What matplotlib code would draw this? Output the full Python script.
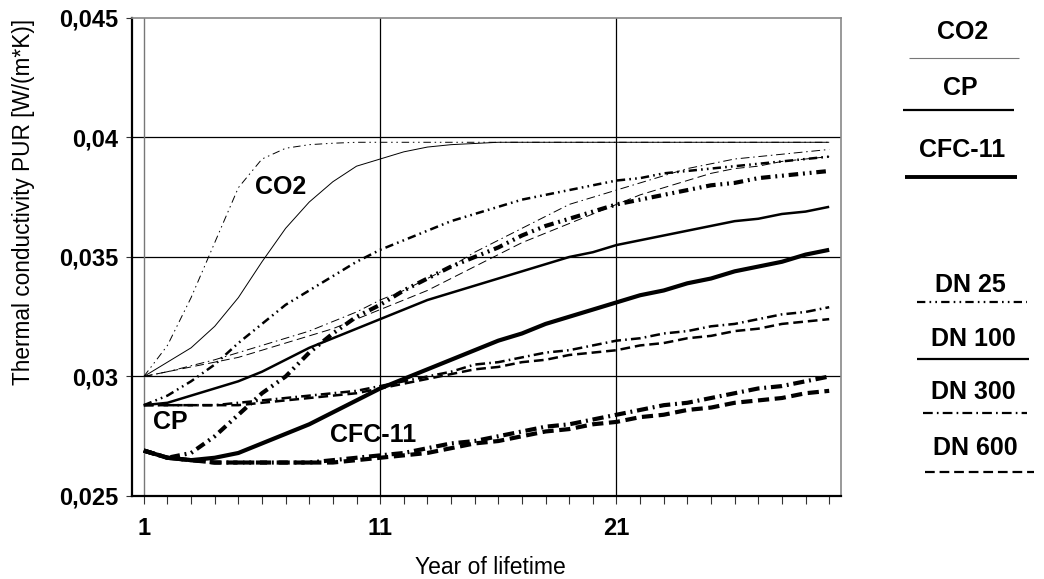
import matplotlib
matplotlib.use("Agg")
import matplotlib.pyplot as plt
from matplotlib.lines import Line2D

plt.rcParams['font.family'] = ['Liberation Sans', 'DejaVu Sans']
plt.rcParams['lines.scale_dashes'] = False

years = list(range(1, 31))

co2_dn25 = [0.0300, 0.0313, 0.0333, 0.0356, 0.0379, 0.0391, 0.03955, 0.0397, 0.03976, 0.0398,
            0.0398, 0.0398, 0.0398, 0.0398, 0.0398, 0.0398, 0.0398, 0.0398, 0.0398, 0.0398,
            0.0398, 0.0398, 0.0398, 0.0398, 0.0398, 0.0398, 0.0398, 0.0398, 0.0398, 0.0398]
co2_dn100 = [0.0300, 0.0306, 0.0312, 0.0321, 0.0333, 0.0348, 0.0362, 0.0373, 0.03815, 0.0388,
             0.0391, 0.0394, 0.0396, 0.0397, 0.03975, 0.0398, 0.0398, 0.0398, 0.0398, 0.0398,
             0.0398, 0.0398, 0.0398, 0.0398, 0.0398, 0.0398, 0.0398, 0.0398, 0.0398, 0.0398]
co2_dn300 = [0.0300, 0.0302, 0.03045, 0.0307, 0.0310, 0.0313, 0.0316, 0.0319, 0.0323, 0.0327,
             0.0332, 0.0336, 0.0341, 0.0346, 0.0352, 0.0357, 0.0362, 0.0367, 0.0372, 0.0375,
             0.0378, 0.0381, 0.0384, 0.0387, 0.0389, 0.0391, 0.0392, 0.0393, 0.0394, 0.0395]
co2_dn600 = [0.0300, 0.0302, 0.0304, 0.0306, 0.0308, 0.0311, 0.0314, 0.0317, 0.0320, 0.0324,
             0.0328, 0.0332, 0.0336, 0.0341, 0.0346, 0.0351, 0.0356, 0.0360, 0.0364, 0.0368,
             0.0372, 0.0376, 0.0379, 0.0382, 0.0385, 0.0387, 0.0388, 0.0390, 0.0391, 0.0392]

cp_dn25 = [0.0288, 0.0292, 0.0298, 0.0305, 0.0314, 0.0322, 0.0330, 0.0336, 0.0342, 0.0348,
           0.0353, 0.0357, 0.0361, 0.0365, 0.0368, 0.0371, 0.0374, 0.0376, 0.0378, 0.0380,
           0.0382, 0.0383, 0.0385, 0.0386, 0.0387, 0.0388, 0.0389, 0.0390, 0.0391, 0.0392]
cp_dn100 = [0.0288, 0.0289, 0.0292, 0.0295, 0.0298, 0.0302, 0.0307, 0.0312, 0.0316, 0.0320,
            0.0324, 0.0328, 0.0332, 0.0335, 0.0338, 0.0341, 0.0344, 0.0347, 0.0350, 0.0352,
            0.0355, 0.0357, 0.0359, 0.0361, 0.0363, 0.0365, 0.0366, 0.0368, 0.0369, 0.0371]
cp_dn300 = [0.0288, 0.0288, 0.0288, 0.0288, 0.0289, 0.0290, 0.0291, 0.0292, 0.0293, 0.0294,
            0.0296, 0.0298, 0.0300, 0.0302, 0.0305, 0.0306, 0.0308, 0.0310, 0.0311, 0.0313,
            0.0315, 0.0316, 0.0318, 0.0319, 0.0321, 0.0322, 0.0324, 0.0326, 0.0327, 0.0329]
cp_dn600 = [0.0288, 0.0288, 0.0288, 0.0288, 0.0288, 0.0289, 0.0290, 0.0291, 0.0292, 0.0293,
            0.0295, 0.0297, 0.0299, 0.0301, 0.0303, 0.0304, 0.0306, 0.0307, 0.0309, 0.0310,
            0.0311, 0.0313, 0.0314, 0.0316, 0.0317, 0.0319, 0.0320, 0.0322, 0.0323, 0.0324]

cfc_dn25 = [0.0269, 0.0266, 0.0268, 0.0275, 0.0284, 0.0293, 0.0300, 0.0310, 0.0318, 0.0325,
            0.0330, 0.0336, 0.0341, 0.0346, 0.0350, 0.0354, 0.0359, 0.0363, 0.0366, 0.0369,
            0.0372, 0.0374, 0.0376, 0.0378, 0.0380, 0.0381, 0.0383, 0.0384, 0.0385, 0.0386]
cfc_dn100 = [0.0269, 0.0266, 0.0265, 0.0266, 0.0268, 0.0272, 0.0276, 0.0280, 0.0285, 0.0290,
             0.0295, 0.0299, 0.0303, 0.0307, 0.0311, 0.0315, 0.0318, 0.0322, 0.0325, 0.0328,
             0.0331, 0.0334, 0.0336, 0.0339, 0.0341, 0.0344, 0.0346, 0.0348, 0.0351, 0.0353]
cfc_dn300 = [0.0269, 0.0266, 0.0265, 0.0264, 0.0264, 0.0264, 0.0264, 0.0264, 0.0265, 0.0266,
             0.0267, 0.0268, 0.0270, 0.0272, 0.0273, 0.0275, 0.0277, 0.0279, 0.0280, 0.0282,
             0.0284, 0.0286, 0.0288, 0.0289, 0.0291, 0.0293, 0.0295, 0.0296, 0.0298, 0.0300]
cfc_dn600 = [0.0269, 0.0266, 0.0265, 0.0264, 0.0264, 0.0264, 0.0264, 0.0264, 0.0264, 0.0265,
             0.0266, 0.0267, 0.0268, 0.0270, 0.0272, 0.0273, 0.0275, 0.0277, 0.0278, 0.0280,
             0.0281, 0.0283, 0.0284, 0.0286, 0.0287, 0.0289, 0.0290, 0.0291, 0.0293, 0.0294]

gases = ["CO2", "CP", "CFC-11"]
pipes = ["DN 25", "DN 100", "DN 300", "DN 600"]
series = {
    ("CO2", "DN 25"): co2_dn25, ("CO2", "DN 100"): co2_dn100,
    ("CO2", "DN 300"): co2_dn300, ("CO2", "DN 600"): co2_dn600,
    ("CP", "DN 25"): cp_dn25, ("CP", "DN 100"): cp_dn100,
    ("CP", "DN 300"): cp_dn300, ("CP", "DN 600"): cp_dn600,
    ("CFC-11", "DN 25"): cfc_dn25, ("CFC-11", "DN 100"): cfc_dn100,
    ("CFC-11", "DN 300"): cfc_dn300, ("CFC-11", "DN 600"): cfc_dn600,
}

yticks = [0.025, 0.03, 0.035, 0.04, 0.045]
ytick_labels = ["0,025", "0,03", "0,035", "0,04", "0,045"]
xtick_major = [1, 11, 21]

# styles
gas_lw = {"CO2": 0.7, "CP": 1.8, "CFC-11": 3.0}
gas_dscale = {"CO2": 0.9, "CP": 1.0, "CFC-11": 1.15}
pipe_dash = {
    "DN 25": [6.0, 3.0, 1.2, 3.0, 1.2, 3.0],
    "DN 100": None,
    "DN 300": [7.0, 3.0, 1.2, 3.0],
    "DN 600": [7.0, 3.5],
}

W, H = 1044, 579
fig = plt.figure(figsize=(W / 100, H / 100), dpi=100)
ax = fig.add_axes([132 / W, 1 - 496 / H, (841 - 132) / W, (496 - 18) / H])

for g in gases:
    for p in pipes:
        ln, = ax.plot(years, series[(g, p)], color="black", lw=gas_lw[g],
                      solid_capstyle="butt", dash_capstyle="butt", zorder=3)
        if pipe_dash[p] is not None:
            ln.set_dashes([d * gas_dscale[g] for d in pipe_dash[p]])

ax.set_xlim(0.5, 30.5)
ax.set_ylim(0.025, 0.045)

ax.set_yticks(yticks)
ax.set_yticklabels(ytick_labels, fontsize=17, fontweight="bold")
ax.set_xticks(years)
ax.set_xticklabels([str(y) if y in xtick_major else "" for y in years],
                   fontsize=17, fontweight="bold")
ax.tick_params(axis="x", direction="out", length=6, width=0.8, color="#333333", pad=9)
ax.tick_params(axis="y", direction="out", length=4, width=0.8, color="#333333", pad=6)

for v in [0.03, 0.035, 0.04]:
    ax.axhline(v, color="black", lw=0.9, zorder=1)
ax.axvline(1, color="#777777", lw=1.0, zorder=1)
for v in [11, 21]:
    ax.axvline(v, color="black", lw=0.9, zorder=1)

ax.spines["left"].set_linewidth(1.6)
ax.spines["bottom"].set_linewidth(1.6)
ax.spines["top"].set_color("#888888")
ax.spines["right"].set_color("#888888")
ax.spines["top"].set_linewidth(1.2)
ax.spines["right"].set_linewidth(1.2)

ax.set_ylabel("Thermal conductivity PUR [W/(m*K)]", fontsize=16.3)
ax.yaxis.set_label_coords(-0.137, 0.615)
ax.set_xlabel("Year of lifetime", fontsize=16.5)
ax.xaxis.set_label_coords(0.505, -0.125)

# in-plot labels
fig.text(281 / W, 1 - 187 / H, "CO2", fontsize=18, fontweight="bold", ha="center", va="center")
fig.text(170 / W, 1 - 422 / H, "CP", fontsize=18, fontweight="bold", ha="center", va="center")
fig.text(373 / W, 1 - 435 / H, "CFC-11", fontsize=18, fontweight="bold", ha="center", va="center")

# side legend (gases: line width)
gas_leg = [("CO2", 963, 32, 909, 1019, 58, 0.8, "#777777"),
           ("CP", 960, 88, 903, 1014, 110, 1.6, "black"),
           ("CFC-11", 962, 150, 905, 1017, 177, 2.8, "black")]
for name, tx, ty, x0, x1, ly, lw, col in gas_leg:
    fig.text(tx / W, 1 - ty / H, name, fontsize=18, fontweight="bold", ha="center", va="center")
    fig.add_artist(Line2D([x0 / W, x1 / W], [1 - ly / H, 1 - ly / H], lw=lw, color=col,
                          transform=fig.transFigure, solid_capstyle="butt"))

pipe_leg = [("DN 25", 970, 285, 917, 1027, 302),
            ("DN 100", 973, 339, 917, 1029, 359),
            ("DN 300", 973, 392, 923, 1027, 413),
            ("DN 600", 975, 448, 925, 1034, 472)]
for name, tx, ty, x0, x1, ly in pipe_leg:
    fig.text(tx / W, 1 - ty / H, name, fontsize=18, fontweight="bold", ha="center", va="center")
    l = Line2D([x0 / W, x1 / W], [1 - ly / H, 1 - ly / H], lw=1.6, color="black",
               transform=fig.transFigure, solid_capstyle="butt", dash_capstyle="butt")
    if pipe_dash[name] is not None:
        l.set_dashes(pipe_dash[name])
    fig.add_artist(l)

fig.savefig("out.png", dpi=100)
